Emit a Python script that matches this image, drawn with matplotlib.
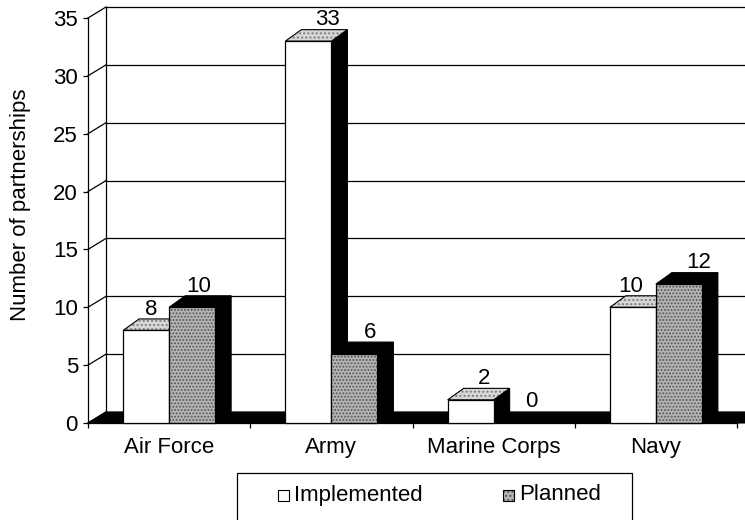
import matplotlib
matplotlib.use('Agg')
import matplotlib.pyplot as plt
from matplotlib.patches import Polygon, Rectangle

# ---- data ----
categories = ['Air Force', 'Army', 'Marine Corps', 'Navy']
implemented = [8, 33, 2, 10]
planned = [10, 6, 0, 12]
series_names = ['Implemented', 'Planned']
yticks = [0, 5, 10, 15, 20, 25, 30, 35]
ylabel = 'Number of partnerships'

plt.rcParams['font.family'] = ['Liberation Sans', 'DejaVu Sans']
plt.rcParams['hatch.linewidth'] = 0.9
FS = 16

# small horizontal nudges (pixels) for the value labels, [implemented, planned]
label_nudge_px = [[5, 7], [19, 16], [13, 15], [-2, 20]]

W, H = 745, 520
fig = plt.figure(figsize=(W / 100, H / 100), dpi=100)
L, R, B, T = 88, 737, 423, 18  # pixel frame of the front plane
ax = fig.add_axes([L / W, 1 - B / H, (R - L) / W, (B - T) / H])
ncat = len(categories)
ax.set_xlim(0, ncat)
ax.set_ylim(0, yticks[-1])

px_x = ncat / (R - L)
px_y = yticks[-1] / (B - T)
wdx, wdy = 18 * px_x, 11 * px_y     # wall depth offset
bdx, bdy = 16 * px_x, 11.5 * px_y   # bar depth offset
bw = 46 * px_x

# ---- walls & gridlines ----
ax.plot([wdx, wdx], [wdy, yticks[-1] + wdy], color='black', lw=0.9,
        clip_on=False, zorder=1)
for k in yticks:
    ax.plot([wdx, ncat + wdx + 1], [k + wdy, k + wdy], color='black', lw=0.9,
            clip_on=False, zorder=1)
    ax.plot([0, wdx], [k, k + wdy], color='black', lw=0.9, clip_on=False, zorder=1)

floor = Polygon([(0, 0), (ncat + 1, 0), (ncat + 1 + wdx, wdy), (wdx, wdy)],
                closed=True, facecolor='black', edgecolor='black', lw=0.8,
                clip_on=False, zorder=2)
ax.add_patch(floor)


def draw_bar(x0, v, front_fc, front_hatch, top_fc, top_hatch, side_fc, z):
    if v <= 0:
        return
    x1 = x0 + bw
    side = Polygon([(x1, 0), (x1 + bdx, bdy), (x1 + bdx, v + bdy), (x1, v)],
                   closed=True, facecolor=side_fc, edgecolor='black', lw=0.8,
                   clip_on=False, zorder=z)
    ax.add_patch(side)
    pts = [(x0, v), (x0 + bdx, v + bdy), (x1 + bdx, v + bdy), (x1, v)]
    top = Polygon(pts, closed=True, facecolor=top_fc,
                  edgecolor='#7a7a7a' if top_hatch else 'black',
                  hatch=top_hatch, lw=0, clip_on=False, zorder=z)
    ax.add_patch(top)
    ax.add_patch(Polygon(pts, closed=True, fill=False, edgecolor='black', lw=0.8,
                         clip_on=False, zorder=z))
    ax.bar([x0], [v], width=bw, align='edge', color=front_fc,
           edgecolor='#555555' if front_hatch else front_fc, hatch=front_hatch,
           lw=0, zorder=z, clip_on=False)
    ax.bar([x0], [v], width=bw, align='edge', fill=False, edgecolor='black',
           lw=0.9, zorder=z, clip_on=False)


for i in range(ncat):
    c = i + 0.5
    z = 3 + i * 2
    draw_bar(c - bw, implemented[i], 'white', None, '#d6d6d6', '....', 'black', z)
    draw_bar(c, planned[i], '#b4b4b4', '.....', 'black', None, 'black', z + 1)
    for j, (x0, v) in enumerate(((c - bw, implemented[i]), (c, planned[i]))):
        ax.annotate(str(v), xy=(x0 + bw / 2, v + bdy),
                    xytext=(label_nudge_px[i][j] * 0.72, 3),
                    textcoords='offset points',
                    ha='center', va='baseline', fontsize=FS, zorder=20,
                    annotation_clip=False)

# ---- axes styling ----
for s in ('top', 'right'):
    ax.spines[s].set_visible(False)
ax.spines['left'].set_linewidth(0.9)
ax.spines['bottom'].set_linewidth(0.9)
ax.spines['bottom'].set_zorder(2.5)
ax.set_yticks(yticks)
ax.set_yticklabels([str(t) for t in yticks], fontsize=FS)
ax.tick_params(axis='y', direction='out', length=3.6, width=0.9, pad=3.6)
ax.set_xticks([i + 0.5 for i in range(ncat)])
ax.set_xticklabels(categories, fontsize=FS)
ax.set_xticks(list(range(ncat + 1)), minor=True)
ax.tick_params(axis='x', which='major', length=0, pad=10)
ax.tick_params(axis='x', which='minor', direction='out', length=3.6, width=0.9)
ax.patch.set_visible(False)

fig.text(21 / W, 1 - 205 / H, ylabel, rotation=90, ha='center', va='center',
         fontsize=FS)

# ---- legend (drawn in figure pixels) ----
def fx(p):
    return p / W


def fy(p):
    return 1 - p / H


box = Rectangle((fx(237), fy(560)), fx(632) - fx(237), fy(473) - fy(560),
                transform=fig.transFigure, fill=False, edgecolor='black', lw=0.9)
fig.add_artist(box)
h1 = Rectangle((fx(278), fy(501)), 11 / W, 11 / H, transform=fig.transFigure,
               facecolor='white', edgecolor='black', lw=0.8)
fig.add_artist(h1)
h2 = Rectangle((fx(503), fy(501)), 11 / W, 11 / H, transform=fig.transFigure,
               facecolor='#b4b4b4', edgecolor='#555555', hatch='....', lw=0)
fig.add_artist(h2)
h2o = Rectangle((fx(503), fy(501)), 11 / W, 11 / H, transform=fig.transFigure,
                fill=False, edgecolor='black', lw=0.8)
fig.add_artist(h2o)
fig.text(fx(294), fy(495), series_names[0], ha='left', va='center', fontsize=FS)
fig.text(fx(519), fy(495), series_names[1], ha='left', va='center', fontsize=FS)

fig.savefig('out.png', dpi=100)
